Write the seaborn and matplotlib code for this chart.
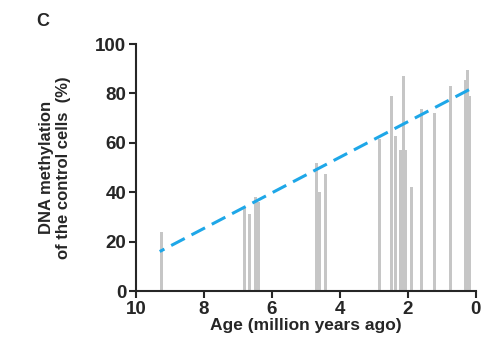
import matplotlib
matplotlib.use("Agg")
import matplotlib.pyplot as plt
import numpy as np
import pandas as pd
import seaborn as sns

# ages (million years ago) and methylation (%) of each sample
ages = [9.26, 6.81, 6.65, 6.47, 6.38, 4.69, 4.59, 4.41, 2.84, 2.49, 2.37,
        2.22, 2.13, 2.06, 1.89, 1.61, 1.22, 0.74, 0.31, 0.24, 0.18]
methylation = [24, 33.5, 31, 38, 36, 52, 40, 47.5, 61.5, 79, 62.7,
               57, 87, 57, 42, 73.5, 72.2, 83, 85.5, 89.5, 79]

# trend line end points
trend_age = [9.3, 0.2]
trend_val = [16, 81.5]

xticks = [10, 8, 6, 4, 2, 0]
yticks = [0, 20, 40, 60, 80, 100]

sns.set_style("ticks")
plt.rcParams['font.family'] = ['Liberation Sans', 'DejaVu Sans']
plt.rcParams['font.weight'] = 'bold'

df = pd.DataFrame({"age": ages, "meth": methylation})
tr = pd.DataFrame({"age": trend_age, "meth": trend_val})

fig = plt.figure(figsize=(4.89, 3.44), dpi=100)
ax = fig.add_axes([0.278, 0.154, 0.695, 0.718])

sns.barplot(data=df, x="age", y="meth", native_scale=True, width=1.5,
            color="#c6c6c6", saturation=1, linewidth=0, errorbar=None, ax=ax)
sns.lineplot(data=tr, x="age", y="meth", color="#1ea7e8", linewidth=2.2,
             dashes=False, ax=ax)
ax.lines[-1].set_dashes((5, 2.5))

ax.set_xlim(10, 0)
ax.set_ylim(0, 100)
ax.set_xticks(xticks)
ax.set_yticks(yticks)
ax.set_xticklabels([str(t) for t in xticks], fontsize=13.5, fontweight='bold')
ax.set_yticklabels([str(t) for t in yticks], fontsize=13.5, fontweight='bold')
ax.tick_params(direction='out', length=5, width=1.5, pad=2)
for s in ['left', 'bottom']:
    ax.spines[s].set_linewidth(1.5)
sns.despine(ax=ax)

ax.set_xlabel("Age (million years ago)", fontsize=12.5, fontweight='bold', labelpad=0)
ax.set_ylabel("DNA methylation\nof the control cells  (%)", fontsize=12,
              fontweight='bold', labelpad=17)

fig.text(0.075, 0.925, "C", fontsize=13, fontweight='bold')

fig.savefig("out.png", dpi=100)
